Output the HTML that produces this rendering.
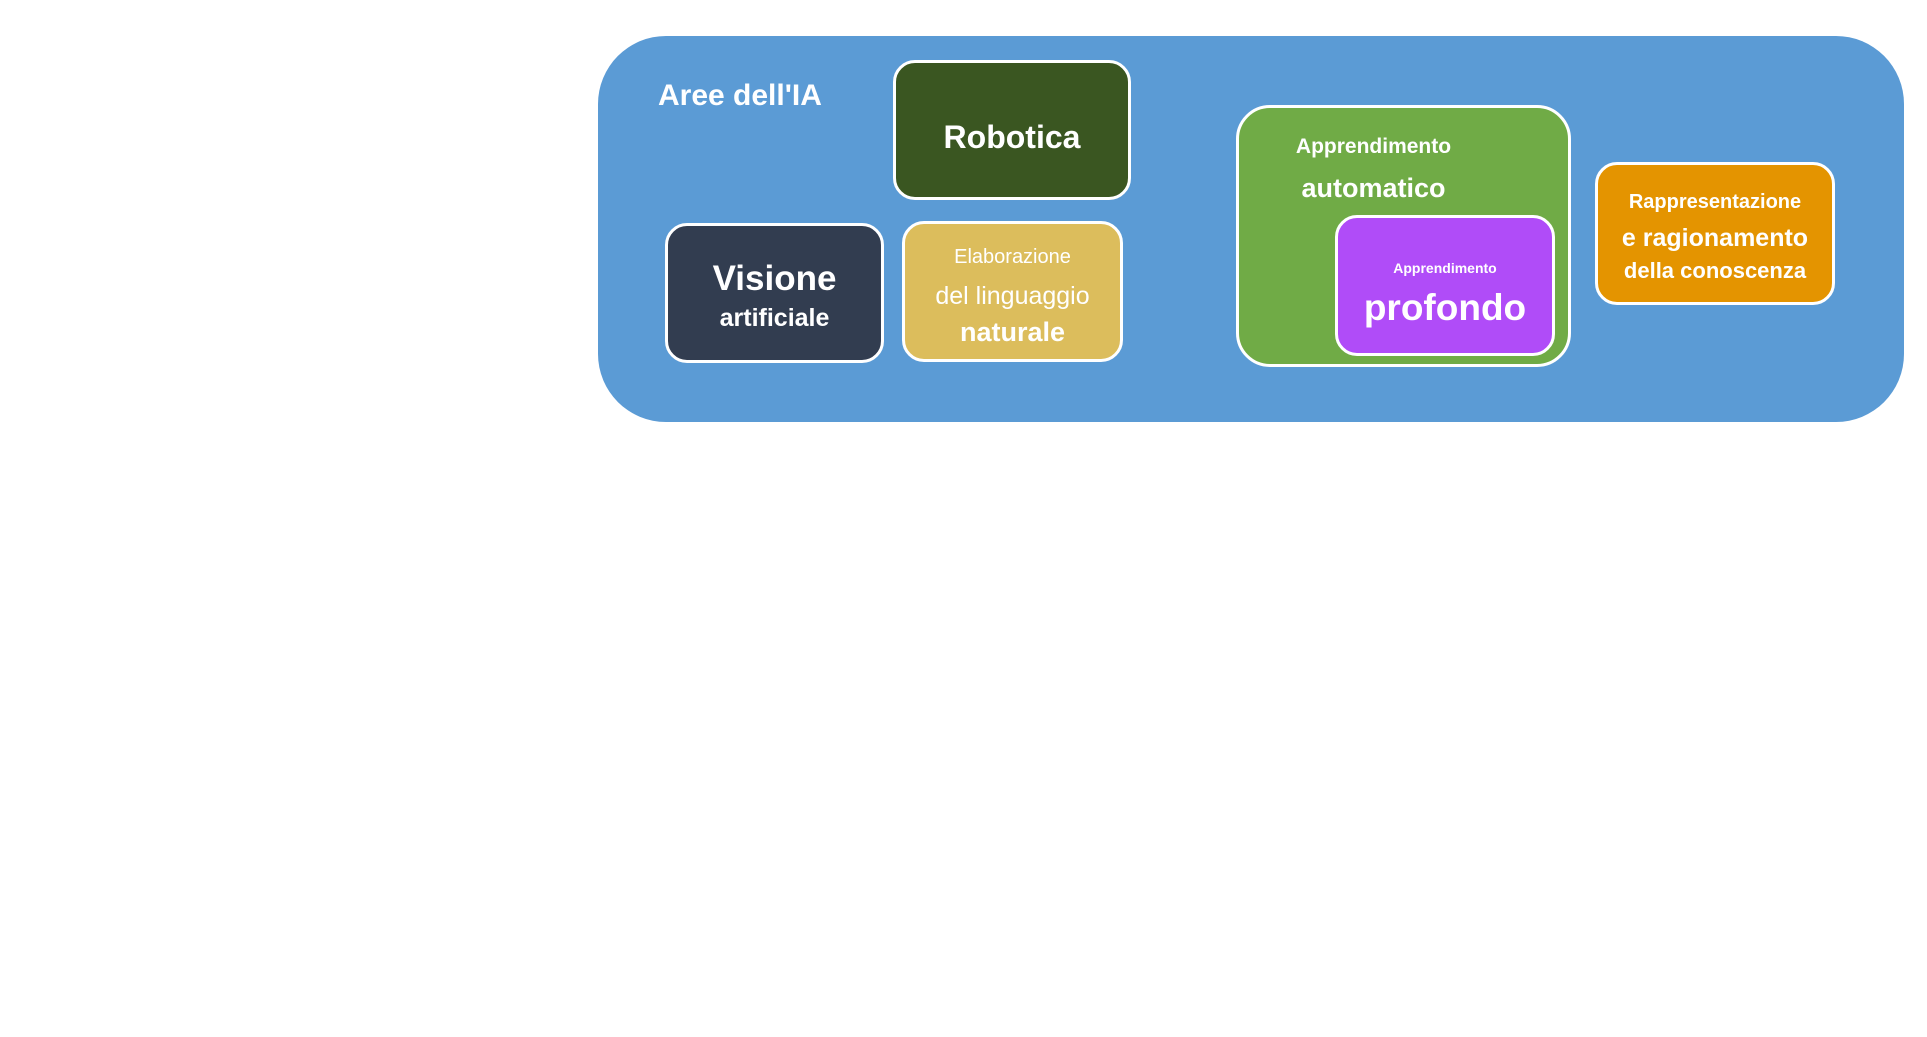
<!DOCTYPE html>
<html><head><meta charset="utf-8"><style>
body{margin:0;width:1927px;height:1037px;background:#fff;position:relative;overflow:hidden;font-family:"Liberation Sans",sans-serif;color:#fff}
.a{position:absolute;box-sizing:border-box}
.n{border:3px solid #fff;border-radius:22px}
.t{position:absolute;left:0;right:0;text-align:center;font-weight:bold;white-space:nowrap;line-height:1}
</style></head><body>
<div class="a" style="left:598px;top:36px;width:1306px;height:386px;background:#5b9bd5;border-radius:68px"></div>
<div class="a" style="left:658px;top:79px;font-size:30px;font-weight:bold">Aree dell'IA</div>

<div class="a n" style="left:893px;top:60px;width:238px;height:140px;background:#3a5621">
<div class="t" style="top:58px;font-size:32px">Robotica</div></div>

<div class="a n" style="left:665px;top:223px;width:219px;height:140px;background:#323d50">
<div class="t" style="top:35px;font-size:35px">Visione</div>
<div class="t" style="top:80px;font-size:25px">artificiale</div></div>

<div class="a n" style="left:902px;top:221px;width:221px;height:141px;background:#dcbd5c">
<div class="t" style="top:23px;font-size:20px;font-weight:normal">Elaborazione</div>
<div class="t" style="top:60px;font-size:25px;font-weight:normal">del linguaggio</div>
<div class="t" style="top:95px;font-size:27px">naturale</div></div>

<div class="a n" style="left:1236px;top:105px;width:335px;height:262px;background:#70ab46;border-radius:34px">
<div class="t" style="top:28px;font-size:21px;left:-60px">Apprendimento</div>
<div class="t" style="top:67px;font-size:27px;left:-60px">automatico</div></div>

<div class="a n" style="left:1335px;top:215px;width:220px;height:141px;background:#b04cf8">
<div class="t" style="top:43px;font-size:14px">Apprendimento</div>
<div class="t" style="top:71px;font-size:37px">profondo</div></div>

<div class="a n" style="left:1595px;top:162px;width:240px;height:143px;background:#e49400">
<div class="t" style="top:27px;font-size:20px">Rappresentazione</div>
<div class="t" style="top:61px;font-size:25px">e ragionamento</div>
<div class="t" style="top:95px;font-size:22px">della conoscenza</div></div>
</body></html>
